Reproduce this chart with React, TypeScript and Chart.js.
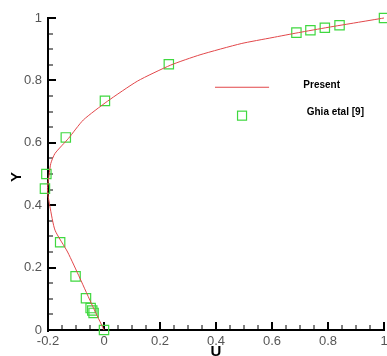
import React, { useEffect, useRef } from "react";
import { Chart, registerables } from "chart.js";

Chart.register(...registerables);

// Present (numerical) solution: U along vertical centerline vs Y
const presentU = [0, -0.04, -0.086, -0.13, -0.175, -0.193, -0.202, -0.196, -0.19, -0.175, -0.127, -0.074, 0.012, 0.12, 0.238, 0.343, 0.49, 0.6, 0.694, 0.8, 0.9, 1.0];
const presentY = [0, 0.075, 0.166, 0.25, 0.32, 0.395, 0.449, 0.497, 0.534, 0.566, 0.614, 0.673, 0.733, 0.798, 0.849, 0.882, 0.918, 0.937, 0.953, 0.97, 0.985, 1.0];

// Ghia et al. [9] benchmark
const ghiaU = [1.0, 0.84123, 0.78871, 0.73722, 0.68717, 0.23151, 0.00332, -0.13641, -0.20581, -0.2109, -0.15662, -0.1015, -0.06434, -0.04775, -0.04192, -0.03717, 0.0];
const ghiaY = [1.0, 0.9766, 0.9688, 0.9609, 0.9531, 0.8516, 0.7344, 0.6172, 0.5, 0.4531, 0.2813, 0.1719, 0.1016, 0.0703, 0.0625, 0.0547, 0.0];

const xTicks = [-0.2, 0, 0.2, 0.4, 0.6, 0.8, 1];
const yTicks = [0, 0.2, 0.4, 0.6, 0.8, 1];
const legendLabels = ["Present", "Ghia etal [9]"];
const xTitle = "U";
const yTitle = "Y";

const LINE_COLOR = "#e2474a";
const SQUARE_COLOR = "#3fd83f";
const FONT = "'Liberation Sans', Arial, sans-serif";

const axesPlugin = {
  id: "axesPlugin",
  beforeDatasetsDraw(chart: any) {
    const { ctx, chartArea } = chart;
    const xs = chart.scales.x;
    const ys = chart.scales.y;
    const { left, right, top, bottom } = chartArea;
    ctx.save();
    ctx.strokeStyle = "#000";
    ctx.lineWidth = 2;
    ctx.beginPath();
    ctx.moveTo(left, top - 1);
    ctx.lineTo(left, bottom + 2);
    ctx.moveTo(left - 1, bottom);
    ctx.lineTo(right + 1, bottom);
    ctx.stroke();
    for (let i = 0; i <= 24; i++) {
      const v = -0.2 + i * 0.05;
      const px = Math.round(xs.getPixelForValue(v));
      const major = i % 4 === 0;
      ctx.lineWidth = major ? 2 : 1;
      ctx.beginPath();
      ctx.moveTo(px, bottom);
      ctx.lineTo(px, bottom - (major ? 8 : 5));
      ctx.stroke();
    }
    for (let i = 0; i <= 20; i++) {
      const v = i * 0.05;
      const py = Math.round(ys.getPixelForValue(v));
      const major = i % 4 === 0;
      ctx.lineWidth = major ? 2 : 1;
      ctx.beginPath();
      ctx.moveTo(left, py);
      ctx.lineTo(left + (major ? 8 : 5), py);
      ctx.stroke();
    }
    ctx.restore();
  },
  afterDraw(chart: any) {
    const { ctx, chartArea } = chart;
    const { left, right, top, bottom } = chartArea;
    const w = right - left;
    const h = bottom - top;
    ctx.save();
    ctx.fillStyle = "#000";
    ctx.font = `bold 15px ${FONT}`;
    ctx.textAlign = "center";
    ctx.textBaseline = "middle";
    ctx.fillText(xTitle, (left + right) / 2, bottom + 22);
    ctx.translate(17, (top + bottom) / 2 + 3);
    ctx.rotate(-Math.PI / 2);
    ctx.fillText(yTitle, 0, 0);
    ctx.restore();

    ctx.save();
    const lx0 = left + w * 0.497;
    const lx1 = left + w * 0.658;
    const ly1 = top + h * 0.222;
    const ly2 = top + h * 0.313;
    ctx.strokeStyle = LINE_COLOR;
    ctx.lineWidth = 1;
    ctx.beginPath();
    ctx.moveTo(lx0, ly1);
    ctx.lineTo(lx1, ly1);
    ctx.stroke();
    const sq = 9;
    const sx = (lx0 + lx1) / 2;
    ctx.strokeStyle = SQUARE_COLOR;
    ctx.lineWidth = 1.2;
    ctx.strokeRect(sx - sq / 2, ly2 - sq / 2, sq, sq);
    ctx.fillStyle = "#000";
    ctx.font = `bold 10px ${FONT}`;
    ctx.textAlign = "left";
    ctx.textBaseline = "middle";
    ctx.fillText(legendLabels[0], left + w * 0.76, ly1 - 2);
    ctx.fillText(legendLabels[1], left + w * 0.77, ly2 - 3);
    ctx.restore();
  },
};

export default function App() {
  const ref = useRef<HTMLCanvasElement | null>(null);
  useEffect(() => {
    document.body.style.margin = "0";
    const canvas = ref.current;
    if (!canvas) return;
    const present = presentU.map((u, i) => ({ x: u, y: presentY[i] }));
    const ghia = ghiaU.map((u, i) => ({ x: u, y: ghiaY[i] }));
    const chart = new Chart(canvas, {
      type: "scatter",
      data: {
        datasets: [
          {
            label: legendLabels[0],
            data: present,
            showLine: true,
            borderColor: LINE_COLOR,
            borderWidth: 1,
            pointRadius: 0,
            tension: 0.2,
            clip: false as any,
          },
          {
            label: legendLabels[1],
            data: ghia,
            showLine: false,
            pointStyle: "rect",
            pointRadius: 6.6,
            pointBorderWidth: 1.2,
            pointBorderColor: SQUARE_COLOR,
            pointBackgroundColor: "rgba(0,0,0,0)",
            clip: false as any,
          },
        ],
      },
      options: {
        responsive: false,
        animation: false,
        layout: { autoPadding: false, padding: { top: 18, right: 3, left: 0, bottom: 0 } },
        plugins: {
          legend: { display: false },
          tooltip: { enabled: false },
        },
        scales: {
          x: {
            type: "linear",
            min: -0.2,
            max: 1,
            afterBuildTicks: (s: any) => {
              s.ticks = xTicks.map((v) => ({ value: v }));
            },
            afterFit: (s: any) => {
              s.height = 26;
              s.paddingLeft = 0;
              s.paddingRight = 0;
            },
            grid: { display: false, drawTicks: false },
            border: { display: false },
            ticks: {
              padding: 4,
              color: "#555",
              font: { family: FONT, size: 13 },
              maxRotation: 0,
              callback: (v: any) => String(Number(Number(v).toFixed(1))),
            },
          },
          y: {
            type: "linear",
            min: 0,
            max: 1,
            afterBuildTicks: (s: any) => {
              s.ticks = yTicks.map((v) => ({ value: v }));
            },
            afterFit: (s: any) => {
              s.width = 48;
              s.paddingTop = 0;
              s.paddingBottom = 0;
            },
            grid: { display: false, drawTicks: false },
            border: { display: false },
            ticks: {
              padding: 6,
              color: "#555",
              font: { family: FONT, size: 13 },
              callback: (v: any) => String(Number(Number(v).toFixed(1))),
            },
          },
        },
      },
      plugins: [axesPlugin],
    });
    return () => chart.destroy();
  }, []);
  return (
    <div style={{ width: 387, height: 356, background: "#fff" }}>
      <canvas ref={ref} width={387} height={356} style={{ display: "block" }} />
    </div>
  );
}
